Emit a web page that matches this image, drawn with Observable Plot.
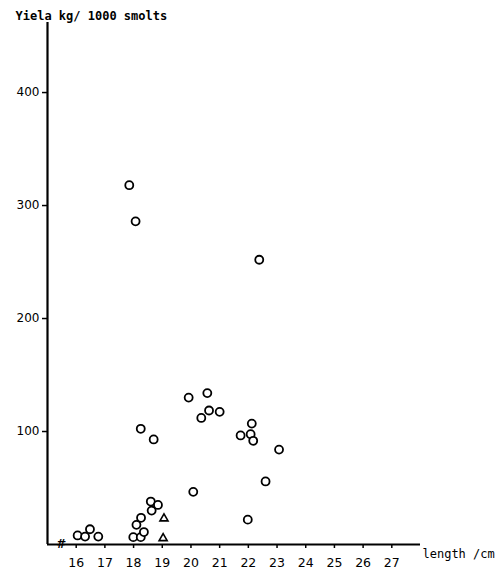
<!DOCTYPE html>
<html><head><meta charset="utf-8">
<script src="https://cdn.jsdelivr.net/npm/d3@7"></script>
<script src="https://cdn.jsdelivr.net/npm/@observablehq/plot@0.6"></script>
<style>body{margin:0;background:#fff}</style>
</head><body><div id="chart"></div>
<script>
// Open circles: smolt length (cm) and yield (kg / 1000 smolts)
const circleLength = [16.05, 16.31, 16.48, 16.77, 17.99, 18.25, 18.36, 18.10, 18.26, 18.60, 18.63, 18.85,
  18.25, 18.70, 19.92, 20.57, 20.36, 20.63, 21.00, 20.08, 21.73, 22.12, 22.08, 22.17, 23.07, 22.60, 21.98,
  17.85, 18.07, 22.38];
const circleYield = [8, 7, 13.5, 7, 6.5, 6.5, 11, 17.4, 23.6, 38, 30, 35,
  102.4, 93, 130, 134, 112, 118.6, 117.4, 46.6, 96.5, 107, 97.6, 91.8, 84, 55.8, 22,
  318, 286, 252];
// Triangles
const triLength = [19.06, 19.03];
const triYield = [23, 5.5];
const xTicks = [16, 17, 18, 19, 20, 21, 22, 23, 24, 25, 26, 27];
const yTicks = [100, 200, 300, 400];
const yLabel = "Yiela kg/ 1000 smolts";
const xLabel = "length /cm";

const circles = circleLength.map((x, i) => ({x, y: circleYield[i]}));
const tris = triLength.map((x, i) => ({x, y: triYield[i]}));

const chart = Plot.plot({
  width: 500, height: 574,
  marginLeft: 47, marginRight: 80, marginTop: 22, marginBottom: 30,
  style: {fontFamily: "DejaVu Sans", fontSize: "12px", color: "#000", background: "#fff"},
  x: {domain: [15, 28]},
  y: {domain: [0, 462]},
  marks: [
    Plot.axisX({ticks: xTicks, tickSize: 4, tickPadding: 10, label: null, fontSize: 12.5, strokeWidth: 1.5}),
    Plot.axisY({ticks: yTicks, tickSize: 5, tickPadding: 3, label: null, fontSize: 12, strokeWidth: 1.5}),
    Plot.ruleY([0], {stroke: "#000", strokeWidth: 2.2}),
    Plot.ruleX([15], {stroke: "#000", strokeWidth: 2.2}),
    Plot.text(["#"], {x: 15.45, y: 0, text: d => d, fontSize: 12, fontStyle: "italic", fontWeight: "bold"}),
    Plot.dot(circles, {x: "x", y: "y", r: 4, stroke: "#000", strokeWidth: 1.8, fill: "#fff"}),
    Plot.dot(tris, {x: "x", y: "y", symbol: "triangle", r: 3, stroke: "#000", strokeWidth: 1.6, fill: "#fff"}),
    Plot.text([yLabel], {frameAnchor: "top-left", text: d => d, dx: -32, dy: -11, textAnchor: "start",
      fontFamily: "DejaVu Sans Mono", fontWeight: "bold", fontSize: 12}),
    Plot.text([xLabel], {frameAnchor: "bottom-right", text: d => d, dx: 2, dy: 13, textAnchor: "start",
      fontFamily: "DejaVu Sans Mono", fontSize: 12})
  ]
});
document.getElementById("chart").append(chart);
</script>
</body></html>
